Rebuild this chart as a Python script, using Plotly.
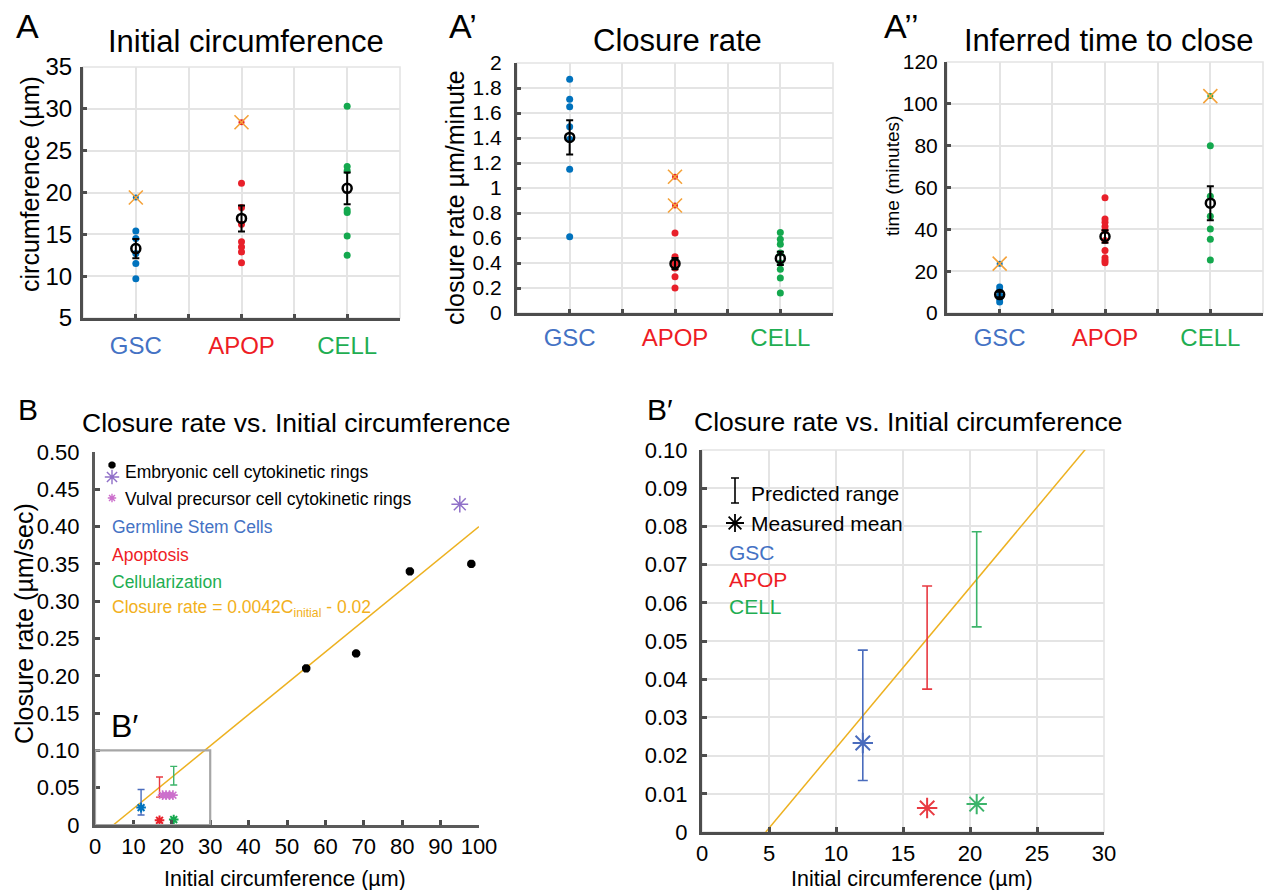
import plotly.graph_objects as go

W, H = 1265, 890
FONT = "Liberation Sans, Arial, Helvetica, sans-serif"

# ---------------- data ----------------
groups = ["GSC", "APOP", "CELL"]
group_x = [1, 2, 3]

# A: initial circumference (µm)
circ_gsc = [9.7, 11.5, 12.7, 14.5, 15.4]
circ_apop = [11.6, 12.9, 13.5, 14.1, 16.2, 18.2, 21.1]
circ_cell = [12.5, 14.8, 17.6, 17.9, 22.6, 23.1, 30.3]
circ_outlier_group = [1, 2]
circ_outlier_val = [19.4, 28.4]
circ_mean = [13.3, 16.9, 20.5]
circ_sem = [1.15, 1.55, 1.9]
circ_ticks = [5, 10, 15, 20, 25, 30, 35]

# A': closure rate (µm/minute)
rate_gsc = [0.61, 1.15, 1.39, 1.49, 1.65, 1.71, 1.87]
rate_apop = [0.20, 0.29, 0.36, 0.40, 0.45, 0.64]
rate_cell = [0.16, 0.28, 0.35, 0.40, 0.48, 0.55, 0.59, 0.645]
rate_outlier_group = [2, 2]
rate_outlier_val = [0.86, 1.09]
rate_mean = [1.405, 0.395, 0.437]
rate_sem = [0.137, 0.045, 0.053]
rate_stray_x = [3.55]
rate_stray_y = [0.04]
rate_ticks = [0, 0.2, 0.4, 0.6, 0.8, 1, 1.2, 1.4, 1.6, 1.8, 2]

# A'': inferred time to close (minutes)
time_gsc = [5.2, 6.8, 8.4, 10.8, 12.4]
time_apop = [24.0, 25.1, 26.4, 29.9, 34.7, 39.4, 41.4, 43.4, 45.0, 55.1]
time_cell = [25.3, 35.2, 40.2, 46.3, 55.8, 80.0]
time_outlier_group = [1, 3]
time_outlier_val = [23.6, 103.7]
time_mean = [8.8, 36.6, 52.5]
time_sem = [1.3, 3.0, 8.1]
time_ticks = [0, 20, 40, 60, 80, 100, 120]

# B / B': closure rate (µm/sec) vs initial circumference (µm)
embryo_circ = [55, 68, 82, 98]
embryo_rate = [0.21, 0.23, 0.34, 0.35]
embryo2_circ = [95]
embryo2_rate = [0.43]
vpc_circ = [17.6, 18.5, 19.4, 20.3]
vpc_rate = [0.04, 0.04, 0.04, 0.04]
pred_circ = [12.0, 16.8, 20.5]
pred_low = [0.0135, 0.0374, 0.0537]
pred_high = [0.0476, 0.0644, 0.0786]
meas_rate = [0.0233, 0.0063, 0.0073]
fit_circ = [4.76, 28.57, 100]
fit_rate = [0.0, 0.10, 0.40]

b_xticks = [0, 10, 20, 30, 40, 50, 60, 70, 80, 90, 100]
b_yticks = [0, 0.05, 0.10, 0.15, 0.20, 0.25, 0.30, 0.35, 0.40, 0.45, 0.50]
b_ytick_text = ["0", "0.05", "0.10", "0.15", "0.20", "0.25", "0.30", "0.35", "0.40", "0.45", "0.50"]
bp_xticks = [0, 5, 10, 15, 20, 25, 30]
bp_yticks = [0, 0.01, 0.02, 0.03, 0.04, 0.05, 0.06, 0.07, 0.08, 0.09, 0.10]
bp_ytick_text = ["0", "0.01", "0.02", "0.03", "0.04", "0.05", "0.06", "0.07", "0.08", "0.09", "0.10"]

# ---------------- style ----------------
dot_colors = ["#0072bd", "#e8202a", "#14a84e"]
label_colors = ["#4472c4", "#ee1c25", "#1fae52"]
bar_colors = ["#4a6cbd", "#e83a42", "#3cb46a"]
ORANGE_X = "#f4a23a"
FIT = "#edb120"
AX = "#4d4d4d"
GRID = "#e4e4e4"


def dx(l, r):
    return [l / W, r / W]


def dy(t, b):
    return [1 - b / H, 1 - t / H]


fig = go.Figure()


def add_strip(xa, ya, series, out_g, out_v, means, sems):
    for gi, vals in enumerate(series):
        fig.add_trace(go.Scatter(
            x=[group_x[gi]] * len(vals), y=vals, mode="markers",
            marker=dict(size=7, color=dot_colors[gi]),
            xaxis=xa, yaxis=ya, showlegend=False, hoverinfo="y"))
    fig.add_trace(go.Scatter(
        x=out_g, y=out_v, mode="markers",
        marker=dict(size=6, color=[dot_colors[g - 1] for g in out_g]),
        xaxis=xa, yaxis=ya, showlegend=False, hoverinfo="y"))
    fig.add_trace(go.Scatter(
        x=out_g, y=out_v, mode="markers",
        marker=dict(symbol="x-thin-open", size=14, color=ORANGE_X, line=dict(width=1.6)),
        xaxis=xa, yaxis=ya, showlegend=False, hoverinfo="y"))
    fig.add_trace(go.Scatter(
        x=group_x, y=means, mode="markers",
        marker=dict(symbol="circle-open", size=9, color="black", line=dict(width=2.5)),
        error_y=dict(type="data", array=sems, color="black", thickness=2, width=3.5),
        xaxis=xa, yaxis=ya, showlegend=False, hoverinfo="y"))


add_strip("x", "y", [circ_gsc, circ_apop, circ_cell], circ_outlier_group, circ_outlier_val, circ_mean, circ_sem)
add_strip("x2", "y2", [rate_gsc, rate_apop, rate_cell], rate_outlier_group, rate_outlier_val, rate_mean, rate_sem)
fig.add_trace(go.Scatter(x=rate_stray_x, y=rate_stray_y, mode="markers", cliponaxis=False,
                         marker=dict(size=5, color="#8e6cc5"), xaxis="x2", yaxis="y2",
                         showlegend=False, hoverinfo="skip"))
add_strip("x3", "y3", [time_gsc, time_apop, time_cell], time_outlier_group, time_outlier_val, time_mean, time_sem)

# ---- B and B' ----
for xa, ya, big in (("x4", "y4", False), ("x5", "y5", True)):
    fig.add_trace(go.Scatter(x=fit_circ, y=fit_rate, mode="lines", line=dict(color=FIT, width=1.5),
                             xaxis=xa, yaxis=ya, showlegend=False, hoverinfo="skip"))
    for i in range(3):
        mid = (pred_low[i] + pred_high[i]) / 2
        fig.add_trace(go.Scatter(
            x=[pred_circ[i]], y=[mid], mode="markers", marker=dict(size=1, opacity=0),
            error_y=dict(type="data", symmetric=False, array=[pred_high[i] - mid],
                         arrayminus=[mid - pred_low[i]], color=bar_colors[i],
                         thickness=1.6 if big else 1.4, width=5 if big else 3.5),
            xaxis=xa, yaxis=ya, showlegend=False, hoverinfo="skip"))
        fig.add_trace(go.Scatter(
            x=[pred_circ[i]], y=[meas_rate[i]], mode="markers", cliponaxis=False,
            marker=dict(symbol="asterisk-open", size=17 if big else 8,
                        color=bar_colors[i] if big else dot_colors[i], line=dict(width=2)),
            xaxis=xa, yaxis=ya, showlegend=False, hoverinfo="y"))

fig.add_trace(go.Scatter(x=vpc_circ, y=vpc_rate, mode="markers",
                         marker=dict(symbol="asterisk-open", size=8, color="#cc6fcc", line=dict(width=1.6)),
                         xaxis="x4", yaxis="y4", showlegend=False, hoverinfo="y"))
fig.add_trace(go.Scatter(x=embryo_circ, y=embryo_rate, mode="markers",
                         marker=dict(symbol="asterisk-open", size=7, color="black", line=dict(width=3)),
                         xaxis="x4", yaxis="y4", showlegend=False, hoverinfo="y"))
fig.add_trace(go.Scatter(x=embryo2_circ, y=embryo2_rate, mode="markers",
                         marker=dict(symbol="asterisk-open", size=14, color="#9070c8", line=dict(width=1.5)),
                         xaxis="x4", yaxis="y4", showlegend=False, hoverinfo="y"))

# legend icons on an invisible pixel-space overlay axis
fig.add_trace(go.Scatter(x=[112], y=[465], mode="markers",
                         marker=dict(symbol="asterisk-open", size=6, color="black", line=dict(width=3)),
                         xaxis="x6", yaxis="y6", showlegend=False, hoverinfo="skip"))
fig.add_trace(go.Scatter(x=[112], y=[477], mode="markers",
                         marker=dict(symbol="asterisk-open", size=12, color="#9070c8", line=dict(width=1.4)),
                         xaxis="x6", yaxis="y6", showlegend=False, hoverinfo="skip"))
fig.add_trace(go.Scatter(x=[112], y=[498], mode="markers",
                         marker=dict(symbol="asterisk-open", size=7, color="#cc6fcc", line=dict(width=1.4)),
                         xaxis="x6", yaxis="y6", showlegend=False, hoverinfo="skip"))
fig.add_trace(go.Scatter(x=[735], y=[490.5], mode="markers", marker=dict(size=1, opacity=0),
                         error_y=dict(type="data", array=[12.5], color="black", thickness=1.6, width=4),
                         xaxis="x6", yaxis="y6", showlegend=False, hoverinfo="skip"))
fig.add_trace(go.Scatter(x=[735], y=[523], mode="markers",
                         marker=dict(symbol="asterisk-open", size=15, color="black", line=dict(width=1.8)),
                         xaxis="x6", yaxis="y6", showlegend=False, hoverinfo="skip"))

# ---------------- axes ----------------
cat_text = [f"<span style='color:{c}'>{g}</span>" for g, c in zip(groups, label_colors)]


def cat_xaxis(dom, anchor, standoff):
    return dict(domain=dom, anchor=anchor, range=[0.5, 3.5], tickvals=group_x, ticktext=cat_text,
                tickfont=dict(size=24, family=FONT), showgrid=True, gridcolor=GRID, gridwidth=1.6,
                minor=dict(tick0=0.5, dtick=0.5, showgrid=True, gridcolor=GRID, gridwidth=1.6,
                           ticks="inside", ticklen=4, tickwidth=2.5, tickcolor=AX),
                ticks="inside", ticklen=4, tickwidth=2.5, tickcolor=AX, showline=True,
                linecolor=AX, linewidth=3, zeroline=False, ticklabelstandoff=standoff, fixedrange=True,
                automargin=False)


def val_yaxis(dom, anchor, rng, ticks, size, standoff):
    return dict(domain=dom, anchor=anchor, range=rng, tickvals=ticks,
                tickfont=dict(size=size, family=FONT, color="black"), showgrid=True, gridcolor=GRID,
                gridwidth=1.6, ticks="inside", ticklen=4, tickwidth=2.5, tickcolor=AX, showline=True,
                linecolor=AX, linewidth=3, zeroline=False, ticklabelstandoff=standoff, fixedrange=True,
                automargin=False)


layout = dict(
    width=W, height=H, margin=dict(l=0, r=0, t=0, b=0, pad=0, autoexpand=False), autosize=False,
    paper_bgcolor="white", plot_bgcolor="rgba(0,0,0,0)",
    font=dict(family=FONT, color="black"), showlegend=False,
    xaxis=cat_xaxis(dx(83, 400), "y", 4),
    yaxis=val_yaxis(dy(67, 318), "x", [5, 35], circ_ticks, 24, 3),
    xaxis2=cat_xaxis(dx(517, 833), "y2", 1),
    yaxis2=val_yaxis(dy(63, 313), "x2", [0, 2], rate_ticks, 21, 8),
    xaxis3=cat_xaxis(dx(947, 1263), "y3", 1),
    yaxis3=val_yaxis(dy(62, 313), "x3", [0, 120], time_ticks, 21, 2),
    xaxis4=dict(domain=dx(95, 479), anchor="y4", range=[0, 100], tickvals=b_xticks,
                tickfont=dict(size=22, family=FONT), showgrid=False, ticks="inside", ticklen=5,
                tickwidth=3, tickcolor=AX, showline=True, linecolor="#5a5a5a", linewidth=3,
                zeroline=False, ticklabelstandoff=0, fixedrange=True, automargin=False),
    yaxis4=dict(domain=dy(452, 825), anchor="x4", range=[0, 0.5], tickvals=b_yticks, ticktext=b_ytick_text,
                tickfont=dict(size=22, family=FONT), showgrid=False, ticks="inside", ticklen=5,
                tickwidth=3, tickcolor=AX, showline=True, linecolor="#5a5a5a", linewidth=3,
                zeroline=False, ticklabelstandoff=8, fixedrange=True, automargin=False),
    xaxis5=dict(domain=dx(702, 1104), anchor="y5", range=[0, 30], tickvals=bp_xticks,
                tickfont=dict(size=22, family=FONT), showgrid=True, gridcolor=GRID, gridwidth=1.6,
                ticks="inside", ticklen=5, tickwidth=3, tickcolor=AX, showline=True, linecolor=AX,
                linewidth=3, zeroline=False, ticklabelstandoff=0, fixedrange=True, automargin=False),
    yaxis5=dict(domain=dy(450, 832), anchor="x5", range=[0, 0.1], tickvals=bp_yticks, ticktext=bp_ytick_text,
                tickfont=dict(size=22, family=FONT), showgrid=True, gridcolor=GRID, gridwidth=1.6,
                ticks="inside", ticklen=5, tickwidth=3, tickcolor=AX, showline=True, linecolor=AX,
                linewidth=3, zeroline=False, ticklabelstandoff=7, fixedrange=True, automargin=False),
    xaxis6=dict(domain=[0, 1], anchor="y6", range=[0, W], visible=False, fixedrange=True, automargin=False),
    yaxis6=dict(domain=[0, 1], anchor="x6", range=[H, 0], visible=False, fixedrange=True, automargin=False),
)
fig.update_layout(**layout)

# frames (light grey box on top/right edges) and B' inset box
shapes = []
for xa, ya in (("x", "y"), ("x2", "y2"), ("x3", "y3"), ("x5", "y5")):
    shapes.append(dict(type="rect", xref=f"{xa} domain", yref=f"{ya} domain", x0=0, x1=1, y0=0, y1=1,
                       line=dict(color=GRID, width=1.6), layer="below"))
shapes.append(dict(type="rect", xref="x4", yref="y4", x0=0, x1=30, y0=0, y1=0.1,
                   line=dict(color="#a6a6a6", width=2.2), layer="above"))
fig.update_layout(shapes=shapes)


def ann(text, x, y, size, color="black", xanchor="center", yanchor="middle", angle=0):
    fig.add_annotation(text=text, x=x / W, y=1 - y / H, xref="paper", yref="paper", showarrow=False,
                       xanchor=xanchor, yanchor=yanchor, textangle=angle,
                       font=dict(size=size, color=color, family=FONT))


# panel letters
ann("A", 14, 26, 34, xanchor="left")
ann("A’", 447, 26, 34, xanchor="left")
ann("A’’", 882, 26, 34, xanchor="left")
ann("B", 16, 409, 30, xanchor="left")
ann("B′", 645, 409, 30, xanchor="left")
ann("B′", 109, 726, 32, xanchor="left")

# titles
ann("Initial circumference", 246, 42, 31)
ann("Closure rate", 677, 40, 31)
ann("Inferred time to close", 1108, 40, 31)
ann("Closure rate vs. Initial circumference", 296, 423, 26.5)
ann("Closure rate vs. Initial circumference", 908, 422, 26.5)

# axis titles
ann("circumference (µm)", 30, 184, 25, angle=-90)
ann("closure rate µm/minute", 455, 197, 25, angle=-90)
ann("time (minutes)", 893, 176, 19, angle=-90)
ann("Closure rate (µm/sec)", 24, 624, 25, angle=-90)
ann("Initial circumference (µm)", 285, 879, 21.5)
ann("Initial circumference (µm)", 912, 879, 21.5)

# B legend text
ann("Embryonic cell cytokinetic rings", 123, 472, 17.5, xanchor="left")
ann("Vulval precursor cell cytokinetic rings", 123, 499, 17.5, xanchor="left")
ann("Germline Stem Cells", 110, 527, 17.5, color=label_colors[0], xanchor="left")
ann("Apoptosis", 110, 555, 17.5, color=label_colors[1], xanchor="left")
ann("Cellularization", 110, 582, 17.5, color=label_colors[2], xanchor="left")
ann("Closure rate = 0.0042C<sub>initial</sub> - 0.02", 110, 608, 17.5, color="#f2b020", xanchor="left")

# B' legend text
ann("Predicted range", 749, 493, 21, xanchor="left")
ann("Measured mean", 749, 523, 21, xanchor="left")
ann("GSC", 727, 552, 21, color=label_colors[0], xanchor="left")
ann("APOP", 727, 579, 21, color=label_colors[1], xanchor="left")
ann("CELL", 727, 606, 21, color=label_colors[2], xanchor="left")

fig.write_html("out.html",
               post_script="document.body.style.margin='0';document.body.style.overflow='hidden';")
